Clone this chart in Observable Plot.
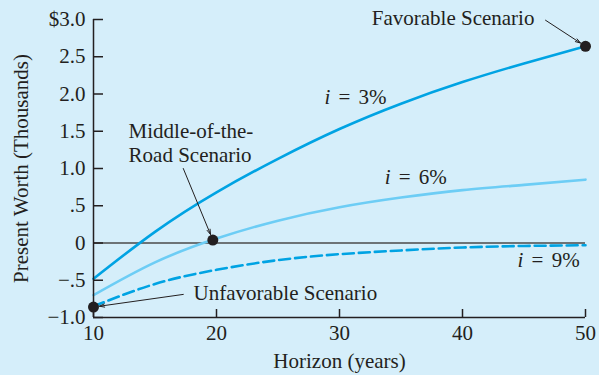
<!DOCTYPE html>
<html>
<head>
<meta charset="utf-8">
<script src="https://cdn.jsdelivr.net/npm/d3@7"></script>
<script src="https://cdn.jsdelivr.net/npm/@observablehq/plot@0.6"></script>
<style>
  html, body { margin: 0; padding: 0; background: #d5eefa; }
  #chart { width: 599px; height: 375px; overflow: hidden; }
  .ilabel text { word-spacing: 3px; }
</style>
</head>
<body>
<div id="chart"></div>
<script>
// ---- data ----
const years = [10, 15, 20, 25, 30, 35, 40, 45, 50];
const pw3 = [-0.48, 0.15, 0.68, 1.13, 1.53, 1.87, 2.16, 2.41, 2.64];
const pw6 = [-0.70, -0.26, 0.06, 0.30, 0.48, 0.61, 0.71, 0.78, 0.85];
const pw9 = [-0.85, -0.55, -0.36, -0.23, -0.15, -0.10, -0.06, -0.04, -0.03];

const xTicks = [10, 20, 30, 40, 50];
const yTicks = [3, 2.5, 2, 1.5, 1, 0.5, 0, -0.5, -1];
const yTickLabels = ["$3.0", "2.5", "2.0", "1.5", "1.0", ".5", "0", "\u2212.5", "\u22121.0"];

const curveLabels = ["i = 3%", "i = 6%", "i = 9%"];
const curveLabelX = [31.3, 36.2, 47.0];
const curveLabelY = [1.95, 0.88, -0.235];

const scenarioNames = ["Favorable Scenario", "Middle-of-the-\nRoad Scenario", "Unfavorable Scenario"];
const scenarioYear = [50, 19.7, 10];
const scenarioPW = [2.64, 0.04, -0.86];
const scenarioLabelX = [45.85, 12.85, 18.13];
const scenarioLabelY = [3.03, 1.35, -0.665];
const scenarioAnchor = ["end", "start", "start"];
const arrowFromX = [46.75, 17.3, 17.3];
const arrowFromY = [2.99, 1.0, -0.69];

// ---- tables built from arrays ----
const line3 = years.map((x, i) => ({x, y: pw3[i]}));
const line6 = years.map((x, i) => ({x, y: pw6[i]}));
const line9 = years.map((x, i) => ({x, y: pw9[i]}));
const labels = curveLabels.map((t, i) => ({t, x: curveLabelX[i], y: curveLabelY[i]}));
const scen = scenarioNames.map((t, i) => ({
  t, px: scenarioYear[i], py: scenarioPW[i],
  lx: scenarioLabelX[i], ly: scenarioLabelY[i], anchor: scenarioAnchor[i],
  ax: arrowFromX[i], ay: arrowFromY[i]
}));

const dark = "#231f20";
const blue = "#00a3e3";
const light = "#6dcdf5";

const chart = Plot.plot({
  width: 599,
  height: 375,
  marginLeft: 93,
  marginRight: 14,
  marginTop: 19,
  marginBottom: 58,
  style: {background: "#d5eefa", fontFamily: "'Liberation Serif', 'Times New Roman', serif", fontSize: "21px", color: dark},
  x: {domain: [10, 50]},
  y: {domain: [-1, 3]},
  marks: [
    Plot.ruleY([0], {stroke: "#4a4a4a", strokeWidth: 1.5}),
    Plot.line(line6, {x: "x", y: "y", stroke: light, strokeWidth: 2.6, curve: "natural"}),
    Plot.line(line9, {x: "x", y: "y", stroke: blue, strokeWidth: 2.6, curve: "natural", strokeDasharray: "11,5"}),
    Plot.line(line3, {x: "x", y: "y", stroke: blue, strokeWidth: 2.6, curve: "natural"}),
    Plot.ruleY([-1], {stroke: dark, strokeWidth: 1.5}),
    Plot.ruleX([10], {stroke: dark, strokeWidth: 1.5}),
    Plot.axisY({ticks: yTicks, tickSize: -10, tickPadding: 18, tickFormat: (d) => yTickLabels[yTicks.indexOf(d)], stroke: dark, strokeWidth: 1.5, fontSize: 21, label: "Present Worth (Thousands)", labelAnchor: "center", labelOffset: 80, labelArrow: "none"}),
    Plot.axisX({ticks: xTicks, tickSize: -8, tickPadding: 16, tickFormat: (d) => String(d), stroke: dark, strokeWidth: 1.5, fontSize: 21, label: "Horizon (years)", labelAnchor: "center", labelOffset: 50, labelArrow: "none"}),
    Plot.text(labels, {x: "x", y: "y", text: "t", fill: dark, fontSize: 21, className: "ilabel"}),
    Plot.arrow(scen, {x1: "ax", y1: "ay", x2: "px", y2: "py", stroke: dark, strokeWidth: 1, headLength: 8, headAngle: 35, insetEnd: 6}),
    Plot.dot(scen, {x: "px", y: "py", r: 5.5, fill: dark}),
    Plot.text(scen.filter((d) => d.anchor === "end"), {x: "lx", y: "ly", text: "t", textAnchor: "end", fill: dark, fontSize: 21, lineHeight: 1.15}),
    Plot.text(scen.filter((d) => d.anchor === "start"), {x: "lx", y: "ly", text: "t", textAnchor: "start", fill: dark, fontSize: 21, lineHeight: 1.15}),
  ]
});

// italicise the "i" in the curve labels (text kept as real text)
d3.select(chart).selectAll(".ilabel text").each(function () {
  const s = this.textContent;
  const el = d3.select(this);
  el.text(null);
  el.append("tspan").attr("font-style", "italic").text(s.slice(0, 1));
  el.append("tspan").text(s.slice(1));
});

document.getElementById("chart").appendChild(chart);
</script>
</body>
</html>
